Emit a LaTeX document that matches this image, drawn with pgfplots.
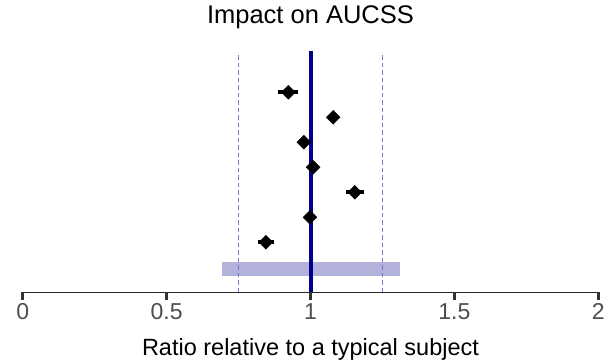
\documentclass[border=0pt]{standalone}
\usepackage{fontspec}
\setmainfont{Liberation Sans}
\usepackage{pgfplots}
\pgfplotsset{compat=1.18}
\definecolor{navyline}{RGB}{0,0,140}
\definecolor{dashblue}{RGB}{120,120,205}
\definecolor{bandfill}{RGB}{178,178,221}
\definecolor{tickgray}{RGB}{77,77,77}
\begin{document}
\begin{tikzpicture}
\begin{axis}[
 scale only axis, width=575.6bp, height=242.5bp,
 xmin=0, xmax=2, ymin=0, ymax=9.7,
 axis x line=bottom, axis y line=none,
 axis line style={-, line width=1.5bp, color=black!85},
 xtick={0,0.5,1,1.5,2},
 xticklabels={0,0.5,1,1.5,2},
 tick align=outside,
 major tick length=8bp,
 xtick style={line width=3bp, color=black!80},
 tick label style={font=\fontsize{23bp}{27bp}\selectfont, text=tickgray},
 /pgf/number format/assume math mode=true,
 title={Impact on AUCSS},
 title style={at={(axis description cs:0.5,1.0845)}, anchor=base, font=\fontsize{25.5bp}{30bp}\selectfont},
 xlabel={Ratio relative to a typical subject},
 xlabel style={at={(axis description cs:0.5,-0.2588)}, anchor=base, font=\fontsize{23.5bp}{28bp}\selectfont},
 clip=false,
]
\addplot[fill=bandfill, draw=none] coordinates {(0.692,0.66) (1.31,0.66) (1.31,1.2) (0.692,1.2)} -- cycle;
\addplot[dashblue, line width=1.5bp, dash pattern=on 4.5bp off 3bp] coordinates {(0.75,0) (0.75,9.53)};
\addplot[dashblue, line width=1.5bp, dash pattern=on 4.5bp off 3bp] coordinates {(1.25,0) (1.25,9.53)};
\addplot[navyline, line width=4bp] coordinates {(1,0) (1,9.64)};
\addplot[ycomb, draw=black!80, line width=3bp, mark=none] coordinates {(0,-0.32) (0.5,-0.32) (1,-0.32) (1.5,-0.32) (2,-0.32)};
\addplot[black, only marks, mark=square*, mark size=4.9bp, mark options={rotate=45, fill=black},
  error bars/.cd, x dir=both, x explicit, error mark=none, error bar style={line width=4bp}]
  table[x=x, y=y, x error=e] {
x y e
0.923 8 0.035
1.079 7 0.01
0.977 6 0.01
1.009 5 0.01
1.154 4 0.032
0.998 3 0.01
0.845 2 0.029
};
\coordinate (bbsw) at (axis cs:-0.0789,-2.868);
\coordinate (bbne) at (axis cs:2.0511,11.692);
\end{axis}
\pgfresetboundingbox
\useasboundingbox (bbsw) rectangle (bbne);
\end{tikzpicture}
\end{document}
